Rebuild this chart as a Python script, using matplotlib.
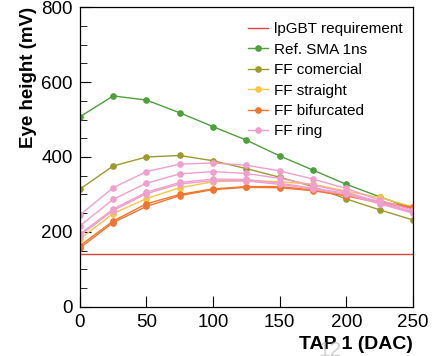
import matplotlib
matplotlib.use("Agg")
import matplotlib.pyplot as plt

plt.rcParams['font.family'] = ['Liberation Sans', 'DejaVu Sans']

# TAP 1 settings (DAC)
tap = [0, 25, 50, 75, 100, 125, 150, 175, 200, 225, 250]

# eye height in mV
lpgbt_req = 140
ref_sma = [507, 563, 552, 518, 481, 445, 403, 365, 327, 294, 262]
ff_comercial = [314, 376, 400, 404, 390, 369, 346, 321, 288, 259, 232]
ff_straight = [181, 249, 289, 318, 334, 337, 334, 327, 309, 292, 267]
ff_bifurcated_a = [163, 229, 275, 300, 315, 321, 321, 312, 299, 281, 266]
ff_bifurcated_b = [157, 225, 268, 297, 313, 319, 318, 310, 296, 278, 263]
ff_ring_a = [245, 318, 361, 381, 384, 378, 363, 341, 316, 285, 258]
ff_ring_b = [216, 287, 330, 355, 361, 356, 343, 325, 306, 280, 254]
ff_ring_c = [194, 261, 306, 332, 341, 340, 330, 317, 303, 277, 252]
ff_ring_d = [190, 257, 302, 328, 337, 336, 327, 314, 300, 275, 250]

green = '#4f9f3c'
olive = '#9c9a2f'
yellow = '#f8c444'
orange = '#f07530'
pink = '#f09fcd'
red = '#d8463c'

fig = plt.figure(figsize=(4.36, 3.56), dpi=100)
ax = fig.add_axes([0.183, 0.138, 0.764, 0.842])

mk = dict(marker='o', markersize=3.8, linewidth=1.0)

ax.axhline(lpgbt_req, color=red, linewidth=1.0, label='lpGBT requirement')
ax.plot(tap, ref_sma, color=green, label='Ref. SMA 1ns', **mk)
ax.plot(tap, ff_comercial, color=olive, label='FF comercial', **mk)
ax.plot(tap, ff_straight, color=yellow, label='FF straight', **mk)
ax.plot(tap, ff_bifurcated_a, color=orange, label='FF bifurcated', **mk)
ax.plot(tap, ff_bifurcated_b, color=orange, **mk)
ax.plot(tap, ff_ring_a, color=pink, label='FF ring', **mk)
ax.plot(tap, ff_ring_b, color=pink, **mk)
ax.plot(tap, ff_ring_c, color=pink, **mk)
ax.plot(tap, ff_ring_d, color=pink, **mk)

ax.set_xlim(0, 250)
ax.set_ylim(0, 800)
ax.set_xticks([0, 50, 100, 150, 200, 250])
ax.set_yticks([0, 200, 400, 600, 800])
ax.set_yticks(range(0, 801, 50), minor=True)
ax.tick_params(axis='both', which='both', direction='in', labelsize=13.5,
               top=False, right=False)
ax.tick_params(axis='x', which='major', length=8, pad=5)
ax.tick_params(axis='y', which='major', length=8, pad=5)
ax.tick_params(axis='y', which='minor', length=5)
for s in ax.spines.values():
    s.set_linewidth(0.9)

ax.set_ylabel('Eye height (mV)', fontsize=13.5, fontweight='bold', loc='top', labelpad=3)
ax.set_xlabel('TAP 1 (DAC)', fontsize=14, fontweight='bold', loc='right', labelpad=4)

ax.legend(loc='upper right', frameon=False, fontsize=11, handlelength=1.3,
          handletextpad=0.35, labelspacing=0.42, borderaxespad=0.3,
          bbox_to_anchor=(1.0, 0.985))

fig.text(0.757, 0.0, '12', fontsize=15, color='#c0c0c0', alpha=0.7, ha='center')

fig.savefig('out.png', dpi=100)
